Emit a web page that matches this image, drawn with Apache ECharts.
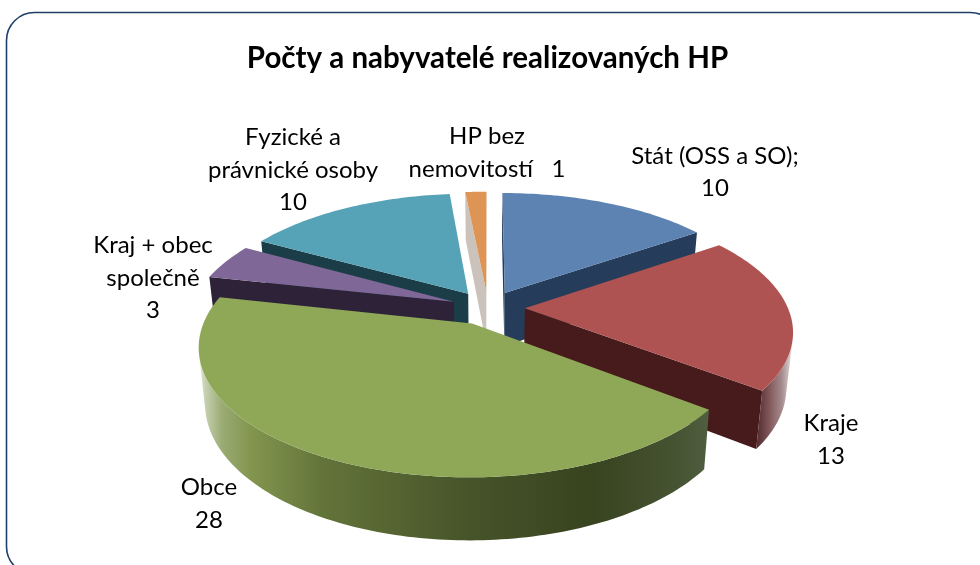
<!DOCTYPE html>
<html><head><meta charset="utf-8">
<style>html,body{margin:0;padding:0;background:#fff}#c{width:980px;height:565px}</style>
<script src="https://cdn.jsdelivr.net/npm/echarts@6/dist/echarts.min.js"></script>
</head><body><div id="c"></div>
<script>
const categories = ['Stát (OSS a SO)', 'Kraje', 'Obce', 'Kraj + obec společně', 'Fyzické a právnické osoby', 'HP bez nemovitostí'];
const values = [10, 13, 28, 3, 10, 1];
const labelNames = ['Stát (OSS a SO);', 'Kraje', 'Obce', 'Kraj + obec\nspolečně', 'Fyzické a\nprávnické osoby', 'HP bez\nnemovitostí'];
const labelJoin = ['\n', '\n', '\n', '\n', '\n', '   '];
const titleText = 'Počty a nabyvatelé realizovaných HP';

// styling and layout
const topColors = ['#5C83B2', '#AE5351', '#8FA858', '#7F6798', '#56A3B8', '#DD9454'];
const wallColors = ['#253C5A', '#471B1B', '#3F4C22', '#2E2238', '#1B3D47', '#CBC3BB'];
const rimStops = {
  1: [[0,'#4f2b2d'],[0.3,'#7a4f52'],[0.7,'#a58a8c'],[1,'#e2dede']],
  2: [[0,'#e6ead9'],[0.012,'#c6d0b0'],[0.045,'#9aab74'],[0.1,'#83964f'],[0.24,'#63743a'],[0.52,'#47552a'],[0.77,'#38431f'],[0.94,'#465433'],[1,'#505f40']]
};
const labelAnchors = [[715,172.5],[831,440],[209,504],[153,278],[293,170],[487,153]];
const drawOrder = [4, 5, 0, 3, 1, 2];
const pie = {cx: 488, cy: 307.8, R: 263, S: 121.6, k: 0.17, T: 54, q: 0.022, explode: 0.14};
const FONT = 'Lato, Carlito, "Open Sans", sans-serif';

const total = values.reduce((a, b) => a + b, 0);
function sliceAngles(i) {
  let s = 0;
  for (let j = 0; j < i; j++) s += values[j];
  return [s / total * 2 * Math.PI, (s + values[i]) / total * 2 * Math.PI];
}
function project(u, v, h) {
  const w = 1 / (1 - pie.k * v);
  const sc = 1 - pie.q * h;
  return [pie.cx + pie.R * u * w * sc, pie.cy + pie.S * v * w * sc + pie.T * h * w];
}
function facing(a, b, aBottom) {
  const dx = b[0] - a[0], dy = b[1] - a[1], hx = aBottom[0] - a[0], hy = aBottom[1] - a[1];
  return dx * hy - dy * hx < 0;
}
function renderSlice(params, api) {
  const i = api.value(0);
  const [a0, a1] = sliceAngles(i);
  const mid = (a0 + a1) / 2;
  const ox = pie.explode * Math.sin(mid), oy = -pie.explode * Math.cos(mid);
  const steps = Math.max(8, Math.ceil((a1 - a0) / 0.02));
  const tops = [], bots = [];
  for (let n = 0; n <= steps; n++) {
    const t = a0 + (a1 - a0) * n / steps;
    const u = ox + Math.sin(t), v = oy - Math.cos(t);
    tops.push(project(u, v, 0));
    bots.push(project(u, v, 1));
  }
  const apexTop = project(ox, oy, 0), apexBot = project(ox, oy, 1);
  const children = [];
  if (facing(apexTop, tops[0], apexBot)) {
    children.push({type: 'polygon', shape: {points: [apexTop, tops[0], bots[0], apexBot]}, style: {fill: wallColors[i]}});
  }
  if (facing(tops[steps], apexTop, bots[steps])) {
    children.push({type: 'polygon', shape: {points: [tops[steps], apexTop, apexBot, bots[steps]]}, style: {fill: wallColors[i]}});
  }
  const front = [];
  for (let n = 0; n < steps; n++) if (facing(tops[n], tops[n + 1], bots[n])) front.push(n);
  if (front.length) {
    const f = front[0], l = front[front.length - 1] + 1;
    const pts = tops.slice(f, l + 1).concat(bots.slice(f, l + 1).reverse());
    const stops = (rimStops[i] || [[0, wallColors[i]], [1, wallColors[i]]]).map(s => ({offset: s[0], color: s[1]}));
    children.push({type: 'polygon', shape: {points: pts},
      style: {fill: new echarts.graphic.LinearGradient(0, 0, 1, 0, stops)}});
  }
  children.push({type: 'polygon', shape: {points: [apexTop].concat(tops)}, style: {fill: topColors[i]}});
  return {type: 'group', children};
}

const chart = echarts.init(document.getElementById('c'), null, {renderer: 'canvas'});
chart.setOption({
  animation: false,
  backgroundColor: '#fff',
  title: {text: titleText, left: 482.5, top: 38, textAlign: 'center',
    textStyle: {fontFamily: FONT, fontWeight: 'bold', fontSize: 29.5, color: '#000'}},
  graphic: [
    {type: 'rect', z: -1, shape: {x: 6.5, y: 12.5, width: 992, height: 562, r: 28},
      style: {fill: '#fff', stroke: '#1F3F66', lineWidth: 1.6}}
  ].concat(categories.map((c, i) => ({
    type: 'text', z: 10, x: labelAnchors[i][0], y: labelAnchors[i][1],
    style: {text: labelNames[i] + labelJoin[i] + values[i], font: '24px ' + FONT, fill: '#000',
      align: 'center', verticalAlign: 'middle', lineHeight: 32.5}
  }))),
  series: [{
    type: 'custom',
    coordinateSystem: 'none',
    renderItem: renderSlice,
    silent: true,
    data: drawOrder.map(i => ({name: categories[i], value: [i, values[i]]}))
  }]
});
</script></body></html>
